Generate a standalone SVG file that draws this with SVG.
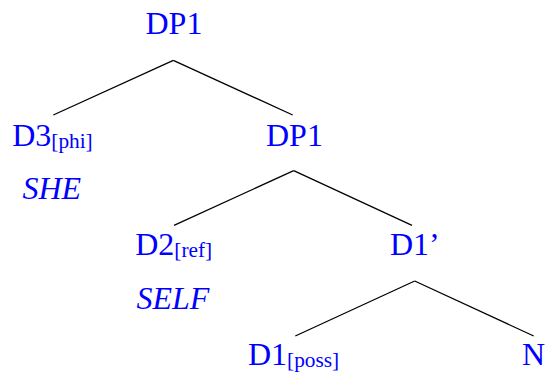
<svg xmlns="http://www.w3.org/2000/svg" width="545" height="372" viewBox="0 0 545 372">
<style>
.t{font-family:"Liberation Serif",serif;font-size:32px;fill:#0000ff}
.i{font-style:italic}
.s{font-size:21.3px}
.e{stroke:#000;stroke-width:1.3;fill:none}
</style>
<rect width="545" height="372" fill="#fff"/>
<g id="connectors">
<line class="e" x1="53.3" y1="115" x2="173.3" y2="60.3"/>
<line class="e" x1="173.3" y1="60.3" x2="292.7" y2="115"/>
<line class="e" x1="174" y1="225.3" x2="293.7" y2="170.7"/>
<line class="e" x1="293.7" y1="170.7" x2="412" y2="225.3"/>
<line class="e" x1="295.3" y1="336" x2="414.7" y2="281"/>
<line class="e" x1="414.7" y1="281" x2="533.7" y2="336"/>
</g>
<g id="dp1-root"><text class="t" x="145.5" y="34.3">DP1</text></g>
<g id="d3"><text class="t" x="12.2" y="145.7">D3<tspan class="s" dy="2">[phi]</tspan></text></g>
<g id="she"><text class="t i" x="22.5" y="199.3">SHE</text></g>
<g id="dp1"><text class="t" x="266" y="145.5">DP1</text></g>
<g id="d2"><text class="t" x="135.2" y="255.3">D2<tspan class="s" dy="2">[ref]</tspan></text></g>
<g id="self"><text class="t i" x="136.5" y="309.3">SELF</text></g>
<g id="d1bar"><text class="t" x="390" y="255">D1’</text></g>
<g id="d1"><text class="t" x="248" y="365">D1<tspan class="s" dy="2">[poss]</tspan></text></g>
<g id="n"><text class="t" x="522" y="365">N</text></g>
</svg>
